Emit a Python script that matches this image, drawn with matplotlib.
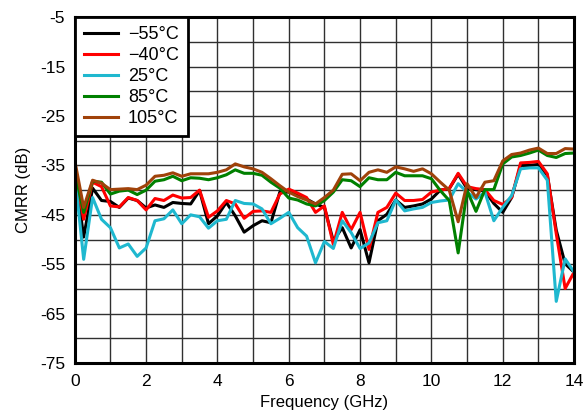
import numpy as np
import matplotlib
matplotlib.use("Agg")
import matplotlib.pyplot as plt

plt.rcParams['font.family'] = ['Liberation Sans', 'DejaVu Sans']
plt.rcParams['axes.unicode_minus'] = False

# Frequency points (GHz), 0.25 GHz steps
freq = np.arange(0, 14.01, 0.25)

cmrr_m55 = [-36, -49.5, -39.6, -42.1, -42.3, -43.5, -41.6, -42.1, -43.6, -43.0, -43.5, -42.5,
            -42.7, -42.8, -40.1, -46.8, -45.2, -42.5, -45.2, -48.5, -47.2, -46.2, -46.6, -40.4,
            -40.4, -40.8, -41.8, -42.8, -43.5, -50.3, -47.6, -51.7, -48.0, -54.7, -46.2, -44.9,
            -42.0, -43.5, -43.2, -42.8, -41.8, -40.0, -39.7, -36.8, -39.7, -39.9, -40.2, -42.7,
            -44.5, -41.5, -35.0, -35.0, -34.8, -37.0, -48.1, -54.9, -56.6]
cmrr_m40 = [-36, -45.9, -38.4, -39.3, -43.2, -43.4, -41.5, -42.1, -44.0, -41.7, -42.1, -41.0,
            -41.6, -41.5, -40.0, -45.5, -44.2, -42.1, -42.8, -45.7, -44.3, -44.2, -44.5, -40.8,
            -39.8, -40.6, -41.5, -44.5, -43.2, -51.0, -44.5, -48.0, -44.5, -52.0, -44.5, -43.5,
            -40.6, -42.1, -42.1, -41.9, -40.4, -40.0, -39.7, -36.6, -39.3, -39.7, -39.9, -42.1,
            -42.9, -41.5, -34.5, -34.4, -34.2, -36.7, -48.8, -59.9, -56.6]
cmrr_25 = [-36.7, -54.0, -41.5, -45.9, -47.6, -51.7, -50.9, -53.4, -51.7, -46.2, -45.8, -44.0,
           -46.8, -45.0, -45.4, -47.7, -46.2, -45.9, -42.1, -42.7, -42.8, -43.8, -46.8, -45.7,
           -44.5, -47.6, -49.3, -54.7, -50.4, -51.8, -46.2, -48.6, -51.8, -50.7, -46.6, -46.2,
           -42.0, -44.2, -43.8, -43.5, -42.5, -42.2, -42.0, -38.7, -40.4, -41.8, -40.4, -46.2,
           -43.5, -41.1, -35.7, -35.5, -35.5, -38.0, -62.5, -53.9, -56.6]
cmrr_85 = [-36.2, -44.5, -38.2, -38.4, -40.8, -40.2, -40.0, -40.9, -40.0, -38.2, -37.9, -37.2,
           -38.1, -37.5, -37.6, -37.9, -37.5, -36.9, -35.9, -36.6, -36.6, -37.0, -38.4, -39.6,
           -41.6, -42.0, -42.8, -43.2, -42.1, -40.4, -37.9, -38.1, -39.3, -37.5, -37.9, -37.9,
           -36.4, -37.1, -37.1, -37.1, -37.7, -40.1, -42.1, -52.7, -40.1, -44.3, -39.9, -39.9,
           -34.7, -33.3, -33.0, -32.5, -31.9, -33.0, -33.4, -32.6, -32.5]
cmrr_105 = [-34.0, -43.5, -38.0, -38.6, -39.9, -39.8, -39.7, -39.9, -39.0, -37.2, -37.0, -36.5,
            -37.2, -36.7, -36.7, -36.7, -36.4, -35.9, -34.7, -35.3, -35.7, -36.4, -37.7, -39.1,
            -40.4, -41.3, -42.0, -42.8, -41.5, -40.0, -36.8, -36.7, -38.1, -36.4, -35.9, -36.4,
            -35.3, -35.7, -36.2, -35.7, -36.7, -38.4, -40.0, -46.4, -38.7, -41.5, -38.4, -38.1,
            -34.1, -32.8, -32.5, -31.9, -31.5, -32.6, -32.6, -31.6, -31.7]

labels = ['\u221255\u00b0C', '\u221240\u00b0C', '25\u00b0C', '85\u00b0C', '105\u00b0C']
colors = ['black', '#FF0000', '#1FB8CF', '#008000', '#A0420A']

fig = plt.figure(figsize=(5.84, 4.16), dpi=100)
ax = fig.add_axes([0.128, 0.127, 0.855, 0.832])

for y, lab, c in zip([cmrr_m55, cmrr_m40, cmrr_25, cmrr_85, cmrr_105], labels, colors):
    ax.plot(freq, y, color=c, lw=2.2, label=lab)

ax.set_xlim(0, 14)
ax.set_ylim(-75, -5)
ax.set_xticks(np.arange(0, 15, 2))
ax.set_xticks(np.arange(0, 15, 1), minor=True)
ax.set_yticks(np.arange(-75, -4, 10))
ax.set_yticks(np.arange(-75, -4, 5), minor=True)
ax.grid(True, which='both', color='#303030', lw=1)
ax.tick_params(which='both', length=0, labelsize=12.5)
ax.tick_params(axis='x', pad=8)
ax.tick_params(axis='y', pad=7)
for s in ax.spines.values():
    s.set_linewidth(2.2)
ax.set_xlabel('Frequency (GHz)', fontsize=12, labelpad=4)
ax.set_ylabel('CMRR (dB)', fontsize=12, labelpad=6)

leg = ax.legend(loc='upper left', borderaxespad=0, fancybox=False, fontsize=13,
                handlelength=1.9, handletextpad=0.55, labelspacing=0.22, borderpad=0.5,
                framealpha=1)
leg.get_frame().set_edgecolor('black')
leg.get_frame().set_linewidth(2)

fig.savefig('out.png', dpi=100)
